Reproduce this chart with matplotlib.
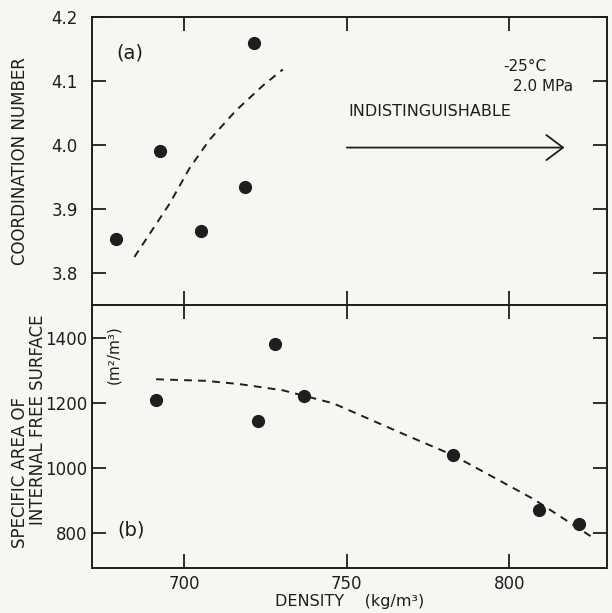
import matplotlib.pyplot as plt

# panel (a): coordination number vs density
dens_a = [679, 692.5, 705, 718.5, 721.5]
coord_num = [3.853, 3.991, 3.865, 3.934, 4.159]
# dashed curve
curve_a_x = [684.6, 695.4, 701.5, 707.7, 715.9, 724.2, 730.3]
curve_a_y = [3.825, 3.908, 3.963, 4.008, 4.054, 4.093, 4.118]

# panel (b): specific area of internal free surface vs density
dens_b = [691.3, 722.6, 727.8, 736.7, 782.6, 809, 821.4]
spec_area = [1208, 1145, 1380, 1220, 1039, 870, 828]
curve_b_x = [691.3, 706.7, 717, 730.3, 745.8, 766.4, 782.6, 807.4, 825]
curve_b_y = [1272, 1267, 1257, 1238, 1198, 1108, 1039, 904, 790]

x_ticks = [700, 750, 800]
a_ticks = [3.8, 3.9, 4.0, 4.1, 4.2]
b_ticks = [800, 1000, 1200, 1400]

ink = '#1e1e1e'
bg = '#f6f6f3'

fig = plt.figure(figsize=(6.12, 6.13), dpi=100, facecolor=bg)
ax_a = fig.add_axes([0.150, 0.5024, 0.8415, 0.4699], facecolor=bg)
ax_b = fig.add_axes([0.150, 0.0734, 0.8415, 0.4290], facecolor=bg)

for ax in (ax_a, ax_b):
    ax.set_xlim(671.5, 830)
    ax.set_xticks(x_ticks)
    for s in ax.spines.values():
        s.set_linewidth(1.4)
        s.set_color(ink)
    ax.tick_params(direction='in', length=10, width=1.3, colors=ink,
                   top=True, right=True, labelsize=12)

# (a)
ax_a.plot(dens_a, coord_num, 'o', color=ink, ms=8.5)
ax_a.plot(curve_a_x, curve_a_y, color=ink, lw=1.4, dashes=(4, 3.2))
ax_a.set_ylim(3.75, 4.2)
ax_a.set_yticks(a_ticks)
ax_a.tick_params(axis='x', labelbottom=False)
ax_a.tick_params(axis='y', pad=10)
ax_a.text(-0.14, 0.5, 'COORDINATION NUMBER', transform=ax_a.transAxes,
          rotation=90, ha='center', va='center', fontsize=12, color=ink)
ax_a.text(0.047, 0.875, '(a)', transform=ax_a.transAxes, fontsize=14,
          ha='left', va='center', color=ink)
ax_a.text(798, 4.123, '-25°C', fontsize=11, ha='left', va='center', color=ink)
ax_a.text(801, 4.091, '2.0 MPa', fontsize=11, ha='left', va='center', color=ink)
ax_a.text(750.6, 4.053, 'INDISTINGUISHABLE', fontsize=11.5, ha='left',
          va='center', color=ink)
ax_a.annotate('', xy=(817, 3.996), xytext=(750, 3.996),
              arrowprops=dict(arrowstyle='->,head_length=1.2,head_width=0.9',
                              color=ink, lw=1.3, mutation_scale=10,
                              shrinkA=0, shrinkB=0))

# (b)
ax_b.plot(dens_b, spec_area, 'o', color=ink, ms=8.5)
ax_b.plot(curve_b_x, curve_b_y, color=ink, lw=1.4, dashes=(4, 3.2))
ax_b.set_ylim(692, 1500)
ax_b.set_yticks(b_ticks)
ax_b.tick_params(axis='y', pad=3)
ax_b.tick_params(axis='x', pad=5)
ax_b.text(-0.14, 0.365, 'SPECIFIC AREA OF', transform=ax_b.transAxes,
          rotation=90, ha='center', va='center', fontsize=12, color=ink)
ax_b.text(-0.105, 0.563, 'INTERNAL FREE SURFACE', transform=ax_b.transAxes,
          rotation=90, ha='center', va='center', fontsize=12, color=ink)
ax_b.text(678.4, 1349, '(m²/m³)', rotation=90, fontsize=11, ha='center',
          va='center', color=ink)
ax_b.text(0.049, 0.144, '(b)', transform=ax_b.transAxes, fontsize=14,
          ha='left', va='center', color=ink)
ax_b.set_xlabel('DENSITY    (kg/m³)', fontsize=11.5, color=ink, labelpad=1)

fig.savefig('out.png', dpi=100, facecolor=bg)
